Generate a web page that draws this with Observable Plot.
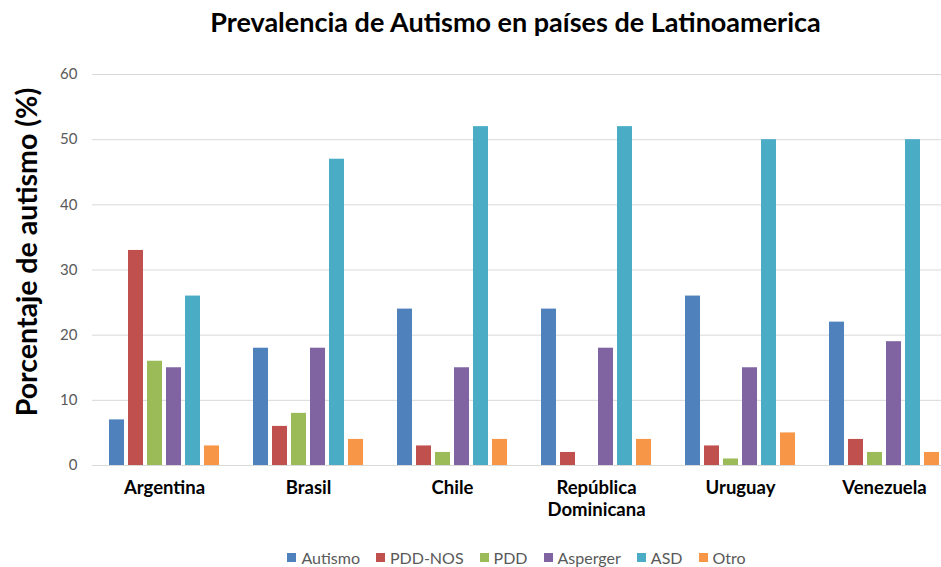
<!DOCTYPE html>
<html>
<head>
<meta charset="utf-8">
<script src="https://cdn.jsdelivr.net/npm/d3@7"></script>
<script src="https://cdn.jsdelivr.net/npm/@observablehq/plot@0.6"></script>
<style>
  html, body { margin: 0; padding: 0; background: #fff; overflow: hidden; width: 941px; height: 567px; }
  #wrap { position: relative; width: 941px; height: 567px; overflow: hidden; font-family: Lato, "Open Sans", sans-serif; }
  #title { position: absolute; top: 5px; left: 0; width: 1031px; text-align: center; font-size: 27px; font-weight: bold; color: #000; }
  #ylabel { position: absolute; left: 26px; top: 252px; transform: translate(-50%, -50%) rotate(-90deg); white-space: nowrap; font-size: 28.5px; font-weight: bold; color: #000; }
  #chart { position: absolute; top: 0; left: 0; width: 941px; height: 567px; overflow: hidden; }
  #legend { position: absolute; top: 548px; left: 0; width: 1033px; display: flex; justify-content: center; gap: 16px; font-size: 16px; color: #595959; }
  #legend span.item { display: inline-flex; align-items: center; }
  #legend span.sw { display: inline-block; width: 9px; height: 9px; margin-right: 5px; }
</style>
</head>
<body>
<div id="wrap">
  <div id="chart"></div>
  <div id="title">Prevalencia de Autismo en países de Latinoamerica</div>
  <div id="ylabel">Porcentaje de autismo (%)</div>
  <div id="legend"></div>
</div>
<script>
const countries = ["Argentina", "Brasil", "Chile", "República Dominicana", "Uruguay", "Venezuela"];
const series = ["Autismo", "PDD-NOS", "PDD", "Asperger", "ASD", "Otro"];
const autismo  = [7, 18, 24, 24, 26, 22];
const pddNos   = [33, 6, 3, 2, 3, 4];
const pdd      = [16, 8, 2, 0, 1, 2];
const asperger = [15, 18, 15, 18, 15, 19];
const asd      = [26, 47, 52, 52, 50, 50];
const otro     = [3, 4, 4, 4, 5, 2];
const colors = ["#4F81BD", "#C0504D", "#9BBB59", "#8064A2", "#4BACC6", "#F79646"];
const yTicks = [0, 10, 20, 30, 40, 50, 60];

const valuesBySeries = [autismo, pddNos, pdd, asperger, asd, otro];
const data = [];
countries.forEach((c, i) => {
  series.forEach((s, j) => {
    data.push({country: c, serie: s, value: valuesBySeries[j][i]});
  });
});

const chart = Plot.plot({
  width: 941,
  height: 567,
  marginLeft: 92,
  marginRight: -15,
  marginTop: 74,
  marginBottom: 102,
  style: {fontFamily: "Lato, 'Open Sans', sans-serif", background: "white", overflow: "hidden"},
  fx: {domain: countries, padding: 0, label: null},
  x: {domain: series, paddingInner: 0.2, paddingOuter: 0.85, axis: null},
  y: {domain: [0, 60], ticks: yTicks, label: null},
  color: {domain: series, range: colors},
  marks: [
    Plot.gridY(yTicks, {stroke: "#d9d9d9", strokeOpacity: 1}),
    Plot.axisY(yTicks, {tickSize: 0, tickPadding: 15, fontSize: 15, fill: "#595959", label: null}),
    Plot.axisFx({
      anchor: "bottom",
      tickSize: 0, tickPadding: 13, fontSize: 18.5, fontWeight: "bold", fill: "#000",
      lineHeight: 1.2, label: null,
      tickFormat: d => d === "República Dominicana" ? "República\nDominicana" : d
    }),
    Plot.barY(data, {fx: "country", x: "serie", y: "value", fill: "serie"})
  ]
});
document.getElementById("chart").appendChild(chart);

const legend = document.getElementById("legend");
series.forEach((s, i) => {
  const item = document.createElement("span");
  item.className = "item";
  const sw = document.createElement("span");
  sw.className = "sw";
  sw.style.background = colors[i];
  item.appendChild(sw);
  item.appendChild(document.createTextNode(s));
  legend.appendChild(item);
});
</script>
</body>
</html>
